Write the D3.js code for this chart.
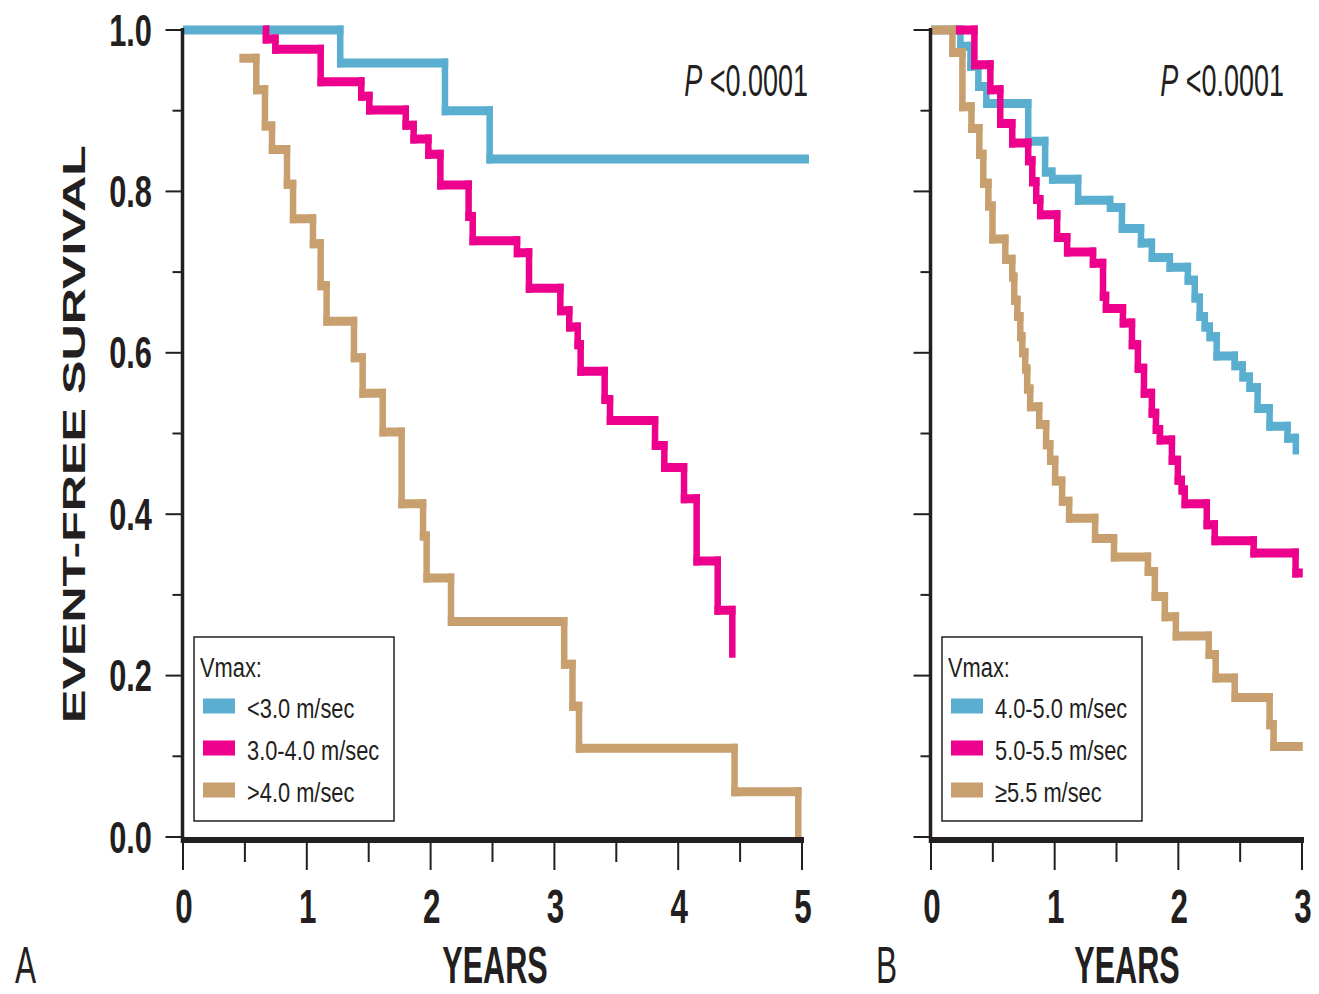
<!DOCTYPE html>
<html>
<head>
<meta charset="utf-8">
<script src="https://cdn.jsdelivr.net/npm/d3@7"></script>
<style>
  body { margin: 0; background: #fff; }
  svg { display: block; font-family: "Liberation Sans", Arial, sans-serif; }
</style>
</head>
<body>
<svg id="chart" width="1319" height="994"></svg>
<script>
// ---- data ----

var survivalTicks = [0, 0.2, 0.4, 0.6, 0.8, 1.0];
var survivalMinor = [0.1, 0.3, 0.5, 0.7, 0.9];
var yearsA = [0, 1, 2, 3, 4, 5];
var yearsB = [0, 1, 2, 3];

var legendA = ["<3.0 m/sec", "3.0-4.0 m/sec", ">4.0 m/sec"];
var legendB = ["4.0-5.0 m/sec", "5.0-5.5 m/sec", "\u22655.5 m/sec"];

// each point: [years, survival after that time]
var aBelow30 = [[0, 1], [1.27, 0.959], [2.116, 0.90], [2.477, 0.84], [5.03, 0.84]];
var a30to40 = [[0.665, 1], [0.67, 0.989], [0.746, 0.976], [1.112, 0.936], [1.44, 0.918],
  [1.505, 0.901], [1.799, 0.882], [1.863, 0.865], [1.982, 0.846], [2.079, 0.808],
  [2.307, 0.769], [2.34, 0.739], [2.698, 0.724], [2.795, 0.68], [3.048, 0.652],
  [3.12, 0.632], [3.188, 0.61], [3.212, 0.577], [3.406, 0.542], [3.449, 0.516],
  [3.813, 0.485], [3.888, 0.458], [4.047, 0.419], [4.149, 0.342], [4.319, 0.281],
  [4.437, 0.222]];
var aAbove40 = [[0.455, 0.965], [0.592, 0.926], [0.662, 0.881], [0.719, 0.852],
  [0.84, 0.809], [0.889, 0.766], [1.05, 0.735], [1.112, 0.683], [1.16, 0.639],
  [1.381, 0.594], [1.451, 0.55], [1.613, 0.502], [1.766, 0.413], [1.939, 0.373],
  [1.968, 0.321], [2.165, 0.267], [3.079, 0.214], [3.146, 0.162], [3.199, 0.11],
  [4.455, 0.056], [4.97, 0]];

var b40to50 = [[0, 1], [0.238, 0.98], [0.319, 0.955], [0.383, 0.93], [0.448, 0.909],
  [0.786, 0.862], [0.923, 0.824], [0.98, 0.815], [1.19, 0.789], [1.448, 0.78],
  [1.544, 0.754], [1.698, 0.736], [1.786, 0.718], [1.931, 0.706], [2.077, 0.69],
  [2.133, 0.668], [2.173, 0.645], [2.214, 0.632], [2.254, 0.62], [2.31, 0.596],
  [2.456, 0.584], [2.52, 0.57], [2.577, 0.557], [2.641, 0.531], [2.738, 0.509],
  [2.883, 0.494], [2.95, 0.474]];
var b50to55 = [[0.198, 1], [0.351, 0.957], [0.48, 0.926], [0.56, 0.884], [0.657, 0.86],
  [0.786, 0.838], [0.819, 0.812], [0.851, 0.79], [0.883, 0.771], [1.02, 0.743],
  [1.101, 0.725], [1.31, 0.711], [1.391, 0.67], [1.415, 0.655], [1.552, 0.637],
  [1.625, 0.61], [1.673, 0.581], [1.722, 0.55], [1.786, 0.525], [1.819, 0.505],
  [1.851, 0.492], [1.948, 0.467], [1.996, 0.442], [2.028, 0.43], [2.052, 0.413],
  [2.23, 0.387], [2.294, 0.367], [2.609, 0.352], [2.948, 0.327], [2.98, 0.327]];
var b55plus = [[0, 1], [0.173, 0.972], [0.254, 0.905], [0.327, 0.878], [0.391, 0.846],
  [0.423, 0.81], [0.464, 0.782], [0.497, 0.741], [0.601, 0.716], [0.657, 0.694],
  [0.673, 0.665], [0.698, 0.645], [0.722, 0.62], [0.738, 0.6], [0.762, 0.58],
  [0.778, 0.555], [0.802, 0.533], [0.875, 0.511], [0.931, 0.486], [0.964, 0.467],
  [1.004, 0.441], [1.06, 0.416], [1.117, 0.395], [1.327, 0.37], [1.48, 0.347],
  [1.754, 0.329], [1.81, 0.298], [1.891, 0.273], [1.98, 0.249], [2.246, 0.226],
  [2.302, 0.197], [2.456, 0.173], [2.738, 0.139], [2.77, 0.112], [2.98, 0.112]];

var colors = ["#5aaed0", "#ec008c", "#c89f6e"];
var ink = "#231f20";

var svg = d3.select("#chart");

var y = d3.scaleLinear().domain([0, 1]).range([837, 30]);

// squeezed text, the figure's type is narrow and tall
function label(g, x, yy, str, size, sx, anchor, weight) {
    return g.append("text")
        .attr("transform", "translate(" + x + "," + yy + ") scale(" + sx + ",1)")
        .attr("font-size", size)
        .attr("font-weight", weight || "normal")
        .attr("text-anchor", anchor || "start")
        .style("fill", ink)
        .text(str);
}

// step curve: horizontals a bit thicker than verticals, like the scan
function stepCurve(g, x, pts, color) {
    var hw = 9, vw = 6.5;
    var h = "", v = "";
    for (var i = 0; i < pts.length - 1; i++) {
        var x0 = x(pts[i][0]), x1 = x(pts[i + 1][0]);
        var y0 = y(pts[i][1]), y1 = y(pts[i + 1][1]);
        var left = i === 0 ? x0 : x0 - vw / 2;
        h += "M" + left + "," + y0 + "H" + (x1 + vw / 2);
        if (y1 !== y0) v += "M" + x1 + "," + (y0 - hw / 2) + "V" + (y1 + (i + 1 === pts.length - 1 ? 0 : hw / 2));
    }
    g.append("path").attr("d", h).attr("fill", "none")
        .attr("stroke", color).attr("stroke-width", hw);
    if (v) g.append("path").attr("d", v).attr("fill", "none")
        .attr("stroke", color).attr("stroke-width", vw);
}

function panel(opts) {
    var g = svg.append("g");
    var x = d3.scaleLinear().domain([0, d3.max(opts.years)]).range(opts.xRange);
    var x0 = opts.xRange[0], x1 = opts.xRange[1];
    var ax = x0 - 0.5;

    // y ticks
    g.selectAll(".ymaj").data(survivalTicks).enter().append("line")
        .attr("x1", ax - 17).attr("x2", ax).attr("y1", function (d) { return y(d); })
        .attr("y2", function (d) { return y(d); })
        .attr("stroke", ink).attr("stroke-width", 2);
    g.selectAll(".ymin").data(survivalMinor).enter().append("line")
        .attr("x1", ax - 10).attr("x2", ax).attr("y1", function (d) { return y(d); })
        .attr("y2", function (d) { return y(d); })
        .attr("stroke", ink).attr("stroke-width", 2);

    // x ticks
    var halfs = opts.years.slice(1).map(function (d) { return d - 0.5; });
    g.selectAll(".xmaj").data(opts.years).enter().append("line")
        .attr("x1", function (d) { return x(d); }).attr("x2", function (d) { return x(d); })
        .attr("y1", 843).attr("y2", 870)
        .attr("stroke", ink).attr("stroke-width", 2);
    g.selectAll(".xmin").data(halfs).enter().append("line")
        .attr("x1", function (d) { return x(d); }).attr("x2", function (d) { return x(d); })
        .attr("y1", 843).attr("y2", 862)
        .attr("stroke", ink).attr("stroke-width", 2);

    opts.years.forEach(function (d) {
        label(g, x(d) + 1, 923, String(d), 49, 0.64, "middle", "bold");
    });
    label(g, opts.titleX, 983, "YEARS", 51, 0.6, "middle", "bold");
    label(g, opts.letterX, 983, opts.letter, 51, 0.62, "start");

    // curves
    opts.series.forEach(function (s, i) { stepCurve(g, x, s, colors[i]); });

    // axes on top
    g.append("line").attr("x1", ax).attr("x2", ax).attr("y1", 28).attr("y2", 843)
        .attr("stroke", ink).attr("stroke-width", 3.5);
    g.append("line").attr("x1", ax - 1.5).attr("x2", x1 + 2).attr("y1", 840).attr("y2", 840)
        .attr("stroke", ink).attr("stroke-width", 6);

    // P value
    var p = g.append("text")
        .attr("transform", "translate(" + opts.pX + ",96) scale(0.6,1)")
        .attr("font-size", 45).attr("text-anchor", "end").style("fill", ink);
    p.append("tspan").attr("font-style", "italic").text("P");
    p.append("tspan").text(" <0.0001");

    // legend
    var lx = opts.legendX;
    g.append("rect").attr("x", lx).attr("y", 637).attr("width", 200).attr("height", 184)
        .attr("fill", "#fff").attr("stroke", ink).attr("stroke-width", 1.5);
    label(g, lx + 6, 677, "Vmax:", 28, 0.78, "start");
    opts.legend.forEach(function (t, i) {
        var cy = 706 + i * 42;
        g.append("rect").attr("x", lx + 9).attr("y", cy - 7.5).attr("width", 32).attr("height", 15)
            .attr("fill", colors[i]);
        label(g, lx + 53, cy + 12, t, 28, 0.78, "start");
    });

    return g;
}

var gA = panel({
    years: yearsA, xRange: [183, 802], series: [aBelow30, a30to40, aAbove40],
    legend: legendA, legendX: 194, titleX: 495, letter: "A", letterX: 15, pX: 808
});
var gB = panel({
    years: yearsB, xRange: [931, 1302], series: [b40to50, b50to55, b55plus],
    legend: legendB, legendX: 942, titleX: 1127, letter: "B", letterX: 876, pX: 1284
});

// y tick labels (left panel only)
survivalTicks.forEach(function (d) {
    label(gA, 152, y(d) + 15.5, d.toFixed(1), 44, 0.7, "end", "bold");
});

// y title
svg.append("text")
    .attr("transform", "translate(85,434) rotate(-90)")
    .attr("font-size", 31).attr("font-weight", "bold")
    .attr("text-anchor", "middle")
    .attr("textLength", 578).attr("lengthAdjust", "spacingAndGlyphs")
    .style("fill", ink)
    .text("EVENT-FREE SURVIVAL");
</script>
</body>
</html>
